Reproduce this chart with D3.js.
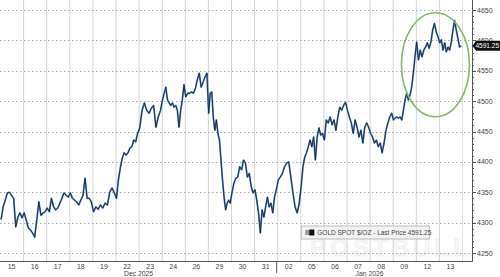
<!DOCTYPE html>
<html>
<head>
<meta charset="utf-8">
<script src="https://cdn.jsdelivr.net/npm/d3@7"></script>
<style>
  body { margin: 0; background: #fff; }
  svg { display: block; font-family: "Liberation Sans", Arial, sans-serif; }
</style>
</head>
<body>
<div id="chart"></div>
<script>
// trading days shown on the axis
const days = ["15", "16", "17", "18", "19", "22", "23", "24", "26", "29",
  "30", "31", "02", "05", "06", "07", "08", "09", "12", "13"];

// intraday gold spot prices, one list per trading day
const prices = [
  [4305, 4326, 4337, 4349, 4350, 4345, 4340, 4293, 4309, 4316, 4308],
  [4316, 4304, 4291, 4288, 4283, 4276, 4304, 4334, 4312, 4316, 4318],
  [4324, 4318, 4340, 4326, 4321, 4324, 4332, 4340, 4349, 4345, 4342],
  [4349, 4340, 4337, 4334, 4329, 4337, 4345, 4373, 4340, 4340, 4334],
  [4318, 4326, 4322, 4329, 4324, 4332, 4329, 4350, 4357, 4349],
  [4340, 4370, 4390, 4406, 4415, 4411, 4415, 4423, 4425, 4436, 4433, 4447],
  [4456, 4485, 4497, 4485, 4480, 4488, 4493, 4457, 4474, 4485],
  [4502, 4513, 4523, 4502, 4497, 4493, 4497, 4490, 4493, 4485, 4457, 4485, 4502, 4527],
  [4507, 4513, 4513, 4515, 4513, 4521, 4535, 4546, 4523, 4531, 4540, 4546],
  [4480, 4513, 4515, 4474, 4452, 4469, 4447, 4436, 4403, 4370, 4342, 4321, 4332, 4337, 4332],
  [4349, 4365, 4373, 4375, 4392, 4387, 4403, 4398, 4375, 4381, 4359, 4349],
  [4354, 4337, 4316, 4283, 4321, 4309, 4326, 4342, 4326, 4332, 4316, 4342, 4354],
  [4370, 4375, 4381, 4392, 4398, 4400, 4375, 4349, 4326, 4316, 4332],
  [4360, 4392, 4408, 4415, 4425, 4436, 4425, 4441, 4403, 4441, 4456, 4444, 4447],
  [4436, 4469, 4464, 4474, 4461, 4469, 4452, 4474, 4490, 4485, 4493, 4498],
  [4485, 4474, 4464, 4447, 4469, 4457, 4441, 4452, 4431, 4457, 4464, 4457],
  [4447, 4441, 4431, 4436, 4425, 4431, 4415, 4431, 4452, 4464, 4474, 4480],
  [4469, 4472, 4474, 4472, 4474, 4469, 4485, 4502, 4513, 4502, 4510, 4523, 4546, 4573],
  [4597, 4568, 4584, 4573, 4584, 4589, 4596, 4587, 4597, 4617, 4628, 4614, 4606],
  [4596, 4601, 4584, 4596, 4581, 4589, 4584, 4597, 4617, 4633, 4617, 4604, 4589, 4591.25]
];

const yTicks = [4250, 4300, 4350, 4400, 4450, 4500, 4550, 4600, 4650];
const months = [{ label: "Dec 2025", at: "23" }, { label: "Jan 2026", at: "08" }];
const yearBreak = "02";
const lastPrice = 4591.25;
const seriesName = "GOLD SPOT $/OZ";

const width = 500;
const height = 277;
const plotRight = 472;
const plotBottom = 261;

const x = d3.scaleBand().domain(days).range([0, 462]);
const y = d3.scaleLinear().domain([4250, 4650]).range([253, 10]);

const svg = d3.select("#chart")
  .append("svg")
  .attr("width", width)
  .attr("height", height);

// watermark
svg.append("text")
  .attr("x", x("05") + 10)
  .attr("y", plotBottom - 5)
  .attr("font-size", 24)
  .attr("font-weight", "bold")
  .attr("letter-spacing", 4)
  .attr("fill", "#f6f6f6")
  .attr("stroke", "#ececec")
  .attr("stroke-width", 0.6)
  .text("POSTBULL");

// vertical day grid
svg.append("g")
  .selectAll("line")
  .data(days.slice(1))
  .join("line")
  .attr("x1", (d) => x(d) + 0.5)
  .attr("x2", (d) => x(d) + 0.5)
  .attr("y1", 0)
  .attr("y2", plotBottom)
  .attr("stroke", "#d4d4d4")
  .attr("stroke-width", 1);

svg.append("line")
  .attr("x1", x("13") + x.bandwidth() + 0.5)
  .attr("x2", x("13") + x.bandwidth() + 0.5)
  .attr("y1", 0)
  .attr("y2", plotBottom)
  .attr("stroke", "#e4e4e4");

// horizontal dotted grid
svg.append("g")
  .selectAll("line")
  .data(yTicks)
  .join("line")
  .attr("x1", 0)
  .attr("x2", plotRight)
  .attr("y1", (d) => Math.round(y(d)) + 0.5)
  .attr("y2", (d) => Math.round(y(d)) + 0.5)
  .attr("stroke", "#a8a8a8")
  .attr("stroke-dasharray", "1.5,2.5");

// price line
const points = [];
prices.forEach((list, i) => {
  const x0 = x(days[i]);
  list.forEach((v, j) => {
    points.push([x0 + (j + 0.5) / list.length * x.bandwidth(), y(v)]);
  });
});

const line = d3.line();

svg.append("path")
  .attr("d", line(points))
  .attr("fill", "none")
  .attr("stroke", "#5a88c4")
  .attr("stroke-width", 1.8)
  .attr("stroke-linejoin", "round");

svg.append("path")
  .attr("d", line(points))
  .attr("fill", "none")
  .attr("stroke", "#0f1b30")
  .attr("stroke-width", 0.8)
  .attr("stroke-linejoin", "round");

// green highlight ellipse
svg.append("ellipse")
  .attr("cx", x("12") + x.bandwidth() * 0.85)
  .attr("cy", y(4560))
  .attr("rx", 34)
  .attr("ry", 52)
  .attr("fill", "none")
  .attr("stroke", "#86b968")
  .attr("stroke-width", 1.6);

// axes frame
svg.append("line")
  .attr("x1", 0).attr("x2", plotRight + 0.5)
  .attr("y1", plotBottom + 0.5).attr("y2", plotBottom + 0.5)
  .attr("stroke", "#555");

svg.append("line")
  .attr("x1", plotRight + 0.5).attr("x2", plotRight + 0.5)
  .attr("y1", 0).attr("y2", plotBottom + 0.5)
  .attr("stroke", "#555");

// right axis ticks and labels
const minor = d3.range(4250, 4651, 10);
svg.append("g")
  .selectAll("line")
  .data(minor)
  .join("line")
  .attr("x1", plotRight)
  .attr("x2", (d) => plotRight + (d % 50 === 0 ? 4 : 2))
  .attr("y1", (d) => Math.round(y(d)) + 0.5)
  .attr("y2", (d) => Math.round(y(d)) + 0.5)
  .attr("stroke", "#555");

svg.append("g")
  .selectAll("text")
  .data(yTicks)
  .join("text")
  .attr("x", plotRight + 5)
  .attr("y", (d) => y(d) + 2.5)
  .attr("font-size", 7)
  .attr("fill", "#444")
  .text((d) => d);

// last price marker
const ly = y(lastPrice);
svg.append("path")
  .attr("d", `M${plotRight + 0.5},${ly} L${plotRight + 4},${ly - 5} L${width},${ly - 5} L${width},${ly + 5} L${plotRight + 4},${ly + 5} Z`)
  .attr("fill", "#111");

svg.append("text")
  .attr("x", plotRight + 3.5)
  .attr("y", ly + 2.5)
  .attr("font-size", 7)
  .attr("textLength", 23.5)
  .attr("lengthAdjust", "spacingAndGlyphs")
  .attr("fill", "#fff")
  .text(lastPrice.toFixed(2));

// day labels
svg.append("g")
  .selectAll("text")
  .data(days)
  .join("text")
  .attr("x", (d) => x(d) + x.bandwidth() / 2)
  .attr("y", plotBottom + 7.5)
  .attr("text-anchor", "middle")
  .attr("font-size", 7)
  .attr("fill", "#444")
  .text((d) => d);

svg.append("g")
  .selectAll("text")
  .data(months)
  .join("text")
  .attr("x", (d) => x(d.at))
  .attr("y", plotBottom + 15)
  .attr("text-anchor", "middle")
  .attr("font-size", 6.8)
  .attr("fill", "#444")
  .text((d) => d.label);

svg.append("line")
  .attr("x1", x(yearBreak) - 0.5).attr("x2", x(yearBreak) - 0.5)
  .attr("y1", plotBottom).attr("y2", plotBottom + 12)
  .attr("stroke", "#555");

// legend
const lg = svg.append("g").attr("transform", `translate(${x("05") + 1},226)`);
lg.append("rect")
  .attr("width", 128)
  .attr("height", 13)
  .attr("fill", "#f0f0f0")
  .attr("fill-opacity", 0.85)
  .attr("stroke", "#bcbcbc");
lg.append("rect")
  .attr("x", 4).attr("y", 4)
  .attr("width", 9).attr("height", 5)
  .attr("fill", "#999");
lg.append("rect")
  .attr("x", 8).attr("y", 3.5)
  .attr("width", 5).attr("height", 6)
  .attr("fill", "#111");
lg.append("text")
  .attr("x", 16)
  .attr("y", 9)
  .attr("font-size", 6.5)
  .attr("fill", "#444")
  .text(`${seriesName}  - Last Price  ${lastPrice.toFixed(2)}`);
</script>
</body>
</html>
